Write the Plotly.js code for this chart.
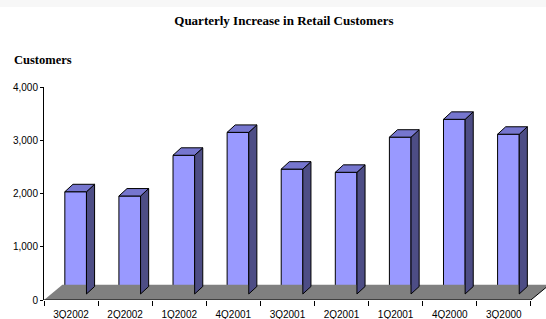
<!DOCTYPE html>
<html>
<head>
<meta charset="utf-8">
<script src="https://cdn.plot.ly/plotly-3.0.1.min.js"></script>
<style>html,body{margin:0;padding:0;background:#fff;}#chart{width:546px;height:319px;}</style>
</head>
<body>
<div id="chart"></div>
<script>
// ---- data ----
const categories = ['3Q2002','2Q2002','1Q2002','4Q2001','3Q2001','2Q2001','1Q2001','4Q2000','3Q2000'];
const customers = [1920, 1840, 2605, 3035, 2345, 2285, 2945, 3280, 3000];
const yTickVals = [0, 1000, 2000, 3000, 4000];

// ---- 3D look parameters (styling only) ----
const barW = 0.40;        // front face width (category units)
const shift = 0.085;      // front face shift right of category centre
const base = 113;         // bars stand slightly behind the front edge of the floor
const depthX = 0.15;      // side depth in x units
const depthY = 140;       // side depth in value units
const floorDX = 0.34, floorDY = 285;

const idx = categories.map((_, i) => i);

// side and top faces built from the values through the axes
const sideX = [], sideY = [], topX = [], topY = [];
customers.forEach((v, i) => {
  const xl = i + shift - barW / 2, xr = i + shift + barW / 2;
  const yt = base + v;
  sideX.push(xr, xr + depthX, xr + depthX, xr, xr, null);
  sideY.push(base, base + depthY, yt + depthY, yt, base, null);
  topX.push(xl, xl + depthX, xr + depthX, xr, xl, null);
  topY.push(yt, yt + depthY, yt + depthY, yt, yt, null);
});

const n = categories.length;
const floorX = [-0.5, -0.5 + floorDX, n - 0.5 + floorDX, n - 0.5, -0.5];
const floorY = [0, floorDY, floorDY, 0, 0];

const traces = [
  { type: 'scatter', x: floorX, y: floorY, mode: 'lines', fill: 'toself',
    fillcolor: '#808080', line: { width: 0, color: '#808080' }, hoverinfo: 'skip', showlegend: false },
  { type: 'bar', x: idx, y: customers, base: base, width: barW, offset: shift - barW / 2,
    marker: { color: '#9999ff', line: { color: '#000', width: 1 } }, showlegend: false },
  { type: 'scatter', x: sideX, y: sideY, mode: 'lines', fill: 'toself',
    fillcolor: '#4d4d85', line: { color: '#000', width: 1 }, hoverinfo: 'skip', showlegend: false },
  { type: 'scatter', x: topX, y: topY, mode: 'lines', fill: 'toself',
    fillcolor: '#7676cf', line: { color: '#000', width: 1 }, hoverinfo: 'skip', showlegend: false }
];

const tickFont = { family: 'Liberation Sans, Arial, sans-serif', size: 10, color: '#000' };

const layout = {
  width: 546, height: 319,
  margin: { l: 44, r: 0, t: 87, b: 19, pad: 0 },
  paper_bgcolor: '#fff', plot_bgcolor: 'rgba(0,0,0,0)',
  title: { text: '<b>Quarterly Increase in Retail Customers</b>',
    font: { family: 'Liberation Serif, Times New Roman, serif', size: 13, color: '#000' },
    xref: 'container', x: 0.52, xanchor: 'center', yref: 'container', y: 0.937, yanchor: 'middle' },
  xaxis: {
    range: [-0.5, n - 0.5 + 0.28], showgrid: false, zeroline: false, showline: false,
    tickmode: 'array', tickvals: idx, ticktext: categories, ticks: 'outside', ticklen: 5, tickcolor: 'rgba(0,0,0,0)',
    tickfont: tickFont, fixedrange: true,
    minor: { tickmode: 'array', tickvals: idx.concat([n]).map(i => i - 0.5), ticks: 'outside', ticklen: 5, tickcolor: '#000', tickwidth: 1, showgrid: false }
  },
  yaxis: {
    range: [0, 4000], tickmode: 'array', tickvals: yTickVals, tickformat: ',d',
    showgrid: false, zeroline: false, showline: true, linecolor: '#000', linewidth: 1,
    ticks: 'outside', ticklen: 3, tickcolor: '#000', tickfont: tickFont, fixedrange: true
  },
  shapes: [
    { type: 'rect', xref: 'paper', yref: 'paper', x0: -0.1, x1: 1.01, y0: 1.376, y1: 1.45,
      fillcolor: '#f7f7f7', line: { width: 0 }, layer: 'below' },
    { type: 'line', xref: 'x', yref: 'y', x0: -0.5, x1: n - 0.5, y0: 0, y1: 0, line: { color: '#000', width: 1 } },
    { type: 'line', xref: 'x', yref: 'y', x0: n - 0.5, x1: n - 0.5 + floorDX, y0: 0, y1: floorDY, line: { color: '#000', width: 1 } }
  ],
  annotations: [
    { text: '<b>Customers</b>', xref: 'paper', yref: 'paper', x: -0.064, y: 1.127,
      xanchor: 'left', yanchor: 'middle', showarrow: false,
      font: { family: 'Liberation Serif, Times New Roman, serif', size: 12.5, color: '#000' } }
  ],
  bargap: 0, showlegend: false
};

Plotly.newPlot('chart', traces, layout, { displayModeBar: false, staticPlot: true });
</script>
</body>
</html>
